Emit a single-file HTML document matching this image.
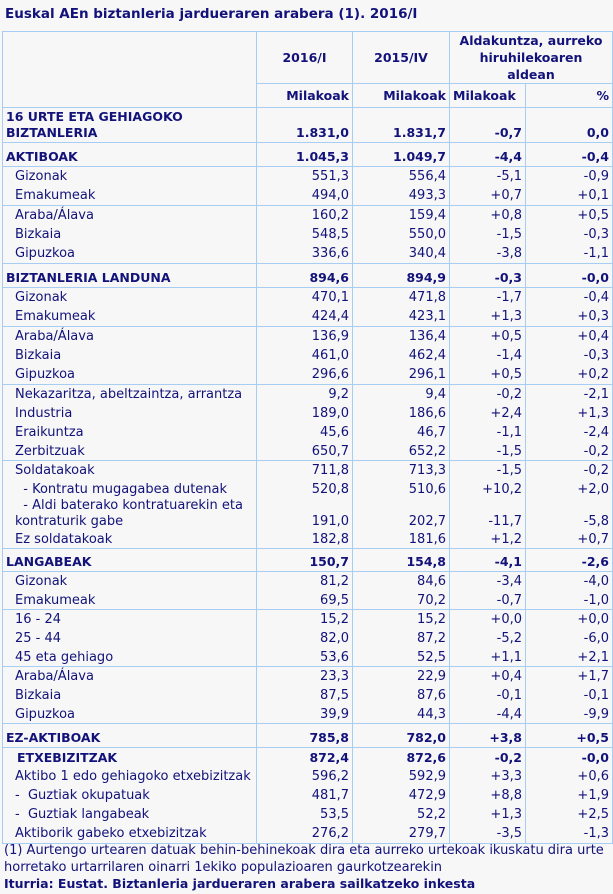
<!DOCTYPE html>
<html><head><meta charset="utf-8"><style>
body{margin:0;background:#f7f7f7;width:613px;height:894px;overflow:hidden;font-family:"DejaVu Sans","Liberation Sans",sans-serif;color:#12127a;}
h1{position:absolute;left:5px;top:6px;margin:0;font-size:13.5px;font-weight:bold;color:#12127a;}
table{position:absolute;left:2px;top:31px;border-collapse:collapse;font-size:13px;table-layout:fixed;border:1px solid #a8cdf2;}
td{border-left:1px solid #a8cdf2;border-right:1px solid #a8cdf2;padding:0 3px;height:19px;line-height:17px;white-space:nowrap;text-align:right;overflow:hidden;}
td.l{text-align:left;padding-left:12px;}
tr.b td{font-weight:bold;font-size:12.5px;height:22px;vertical-align:bottom;padding-bottom:1px;}
tr.b td.l{padding-left:3px;}
tr.s td{border-top:1px solid #a8cdf2;}
tr.t td{height:18px;}
tr.b.t td{height:21px;}
th{border:1px solid #a8cdf2;font-size:12.5px;font-weight:bold;padding:0 3px;line-height:17px;white-space:nowrap;}
.fn{position:absolute;left:4px;top:842px;font-size:13px;line-height:17px;width:610px;}
.src{position:absolute;left:4px;top:876px;font-size:12.5px;font-weight:bold;}
</style></head><body>
<h1>Euskal AEn biztanleria jardueraren arabera (1). 2016/I</h1>
<table>
<colgroup><col style="width:254px"><col style="width:96px"><col style="width:97px"><col style="width:76px"><col style="width:87px"></colgroup>
<tr><th rowspan="2"></th><th style="height:49px;text-align:center">2016/I</th><th style="text-align:center">2015/IV</th><th colspan="2" style="text-align:center">Aldakuntza, aurreko<br>hiruhilekoaren<br>aldean</th></tr>
<tr><th style="height:23px;text-align:right">Milakoak</th><th style="text-align:right">Milakoak</th><th style="text-align:left">Milakoak</th><th style="text-align:right">%</th></tr>
<tr class="b s"><td class="l" style="height:33px;line-height:16px">16 URTE ETA GEHIAGOKO<br>BIZTANLERIA</td><td>1.831,0</td><td>1.831,7</td><td>-0,7</td><td>0,0</td></tr>
<tr class="b s"><td class="l">AKTIBOAK</td><td>1.045,3</td><td>1.049,7</td><td>-4,4</td><td>-0,4</td></tr>
<tr class="s"><td class="l">Gizonak</td><td>551,3</td><td>556,4</td><td>-5,1</td><td>-0,9</td></tr>
<tr><td class="l">Emakumeak</td><td>494,0</td><td>493,3</td><td>+0,7</td><td>+0,1</td></tr>
<tr class="s"><td class="l">Araba/Álava</td><td>160,2</td><td>159,4</td><td>+0,8</td><td>+0,5</td></tr>
<tr><td class="l">Bizkaia</td><td>548,5</td><td>550,0</td><td>-1,5</td><td>-0,3</td></tr>
<tr><td class="l">Gipuzkoa</td><td>336,6</td><td>340,4</td><td>-3,8</td><td>-1,1</td></tr>
<tr class="b s"><td class="l">BIZTANLERIA LANDUNA</td><td>894,6</td><td>894,9</td><td>-0,3</td><td>-0,0</td></tr>
<tr class="s"><td class="l">Gizonak</td><td>470,1</td><td>471,8</td><td>-1,7</td><td>-0,4</td></tr>
<tr><td class="l">Emakumeak</td><td>424,4</td><td>423,1</td><td>+1,3</td><td>+0,3</td></tr>
<tr class="s"><td class="l">Araba/Álava</td><td>136,9</td><td>136,4</td><td>+0,5</td><td>+0,4</td></tr>
<tr><td class="l">Bizkaia</td><td>461,0</td><td>462,4</td><td>-1,4</td><td>-0,3</td></tr>
<tr><td class="l">Gipuzkoa</td><td>296,6</td><td>296,1</td><td>+0,5</td><td>+0,2</td></tr>
<tr class="s"><td class="l">Nekazaritza, abeltzaintza, arrantza</td><td>9,2</td><td>9,4</td><td>-0,2</td><td>-2,1</td></tr>
<tr><td class="l">Industria</td><td>189,0</td><td>186,6</td><td>+2,4</td><td>+1,3</td></tr>
<tr><td class="l">Eraikuntza</td><td>45,6</td><td>46,7</td><td>-1,1</td><td>-2,4</td></tr>
<tr class="t"><td class="l">Zerbitzuak</td><td>650,7</td><td>652,2</td><td>-1,5</td><td>-0,2</td></tr>
<tr class="s"><td class="l">Soldatakoak</td><td>711,8</td><td>713,3</td><td>-1,5</td><td>-0,2</td></tr>
<tr class="t"><td class="l">&nbsp;&nbsp;- Kontratu mugagabea dutenak</td><td>520,8</td><td>510,6</td><td>+10,2</td><td>+2,0</td></tr>
<tr><td class="l" style="height:30px;line-height:16px;vertical-align:bottom">&nbsp;&nbsp;- Aldi baterako kontratuarekin eta<br>kontraturik gabe</td><td style="vertical-align:bottom">191,0</td><td style="vertical-align:bottom">202,7</td><td style="vertical-align:bottom">-11,7</td><td style="vertical-align:bottom">-5,8</td></tr>
<tr class="t"><td class="l">Ez soldatakoak</td><td>182,8</td><td>181,6</td><td>+1,2</td><td>+0,7</td></tr>
<tr class="b s t"><td class="l">LANGABEAK</td><td>150,7</td><td>154,8</td><td>-4,1</td><td>-2,6</td></tr>
<tr class="s"><td class="l">Gizonak</td><td>81,2</td><td>84,6</td><td>-3,4</td><td>-4,0</td></tr>
<tr class="t"><td class="l">Emakumeak</td><td>69,5</td><td>70,2</td><td>-0,7</td><td>-1,0</td></tr>
<tr class="s"><td class="l">16 - 24</td><td>15,2</td><td>15,2</td><td>+0,0</td><td>+0,0</td></tr>
<tr><td class="l">25 - 44</td><td>82,0</td><td>87,2</td><td>-5,2</td><td>-6,0</td></tr>
<tr class="t"><td class="l">45 eta gehiago</td><td>53,6</td><td>52,5</td><td>+1,1</td><td>+2,1</td></tr>
<tr class="s"><td class="l">Araba/Álava</td><td>23,3</td><td>22,9</td><td>+0,4</td><td>+1,7</td></tr>
<tr><td class="l">Bizkaia</td><td>87,5</td><td>87,6</td><td>-0,1</td><td>-0,1</td></tr>
<tr class="t"><td class="l">Gipuzkoa</td><td>39,9</td><td>44,3</td><td>-4,4</td><td>-9,9</td></tr>
<tr class="b s"><td class="l">EZ-AKTIBOAK</td><td>785,8</td><td>782,0</td><td>+3,8</td><td>+0,5</td></tr>
<tr class="s" style="font-weight:bold;font-size:12.5px"><td class="l" style="padding-left:14px">ETXEBIZITZAK</td><td>872,4</td><td>872,6</td><td>-0,2</td><td>-0,0</td></tr>
<tr><td class="l">Aktibo 1 edo gehiagoko etxebizitzak</td><td>596,2</td><td>592,9</td><td>+3,3</td><td>+0,6</td></tr>
<tr><td class="l">-&nbsp;&nbsp;Guztiak okupatuak</td><td>481,7</td><td>472,9</td><td>+8,8</td><td>+1,9</td></tr>
<tr><td class="l">-&nbsp;&nbsp;Guztiak langabeak</td><td>53,5</td><td>52,2</td><td>+1,3</td><td>+2,5</td></tr>
<tr><td class="l">Aktiborik gabeko etxebizitzak</td><td>276,2</td><td>279,7</td><td>-3,5</td><td>-1,3</td></tr>
</table>
<div class="fn">(1) Aurtengo urtearen datuak behin-behinekoak dira eta aurreko urtekoak ikuskatu dira urte horretako urtarrilaren oinarri 1ekiko populazioaren gaurkotzearekin</div>
<div class="src">Iturria: Eustat. Biztanleria jardueraren arabera sailkatzeko inkesta</div>
</body></html>
